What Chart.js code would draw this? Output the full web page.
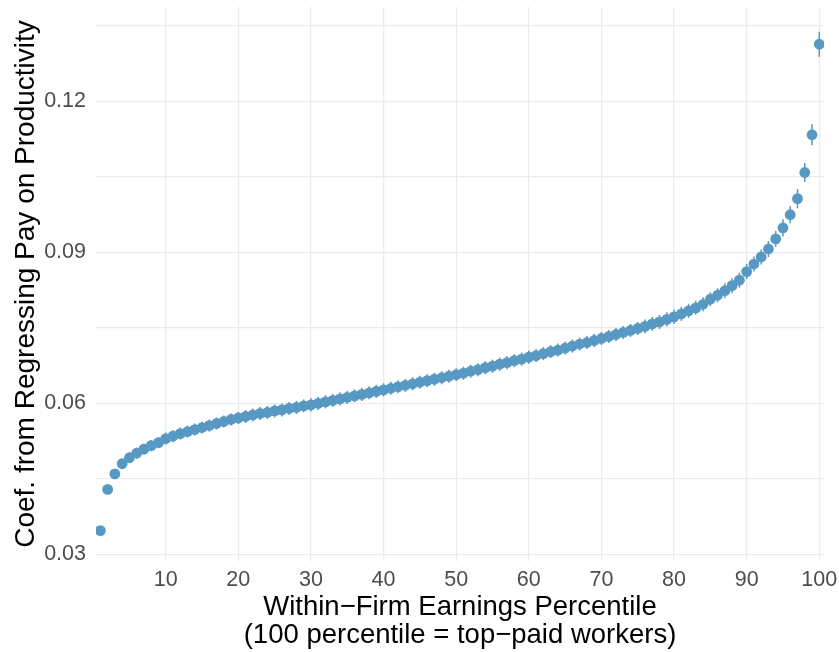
<!DOCTYPE html>
<html>
<head>
<meta charset="utf-8">
<script src="https://cdn.jsdelivr.net/npm/chart.js@4/dist/chart.umd.min.js"></script>
<style>
  html, body { margin: 0; padding: 0; background: #ffffff; }
  #wrap { width: 839px; height: 652px; }
</style>
</head>
<body>
<div id="wrap"><canvas id="c" width="839" height="652"></canvas></div>
<script>
// Within-firm earnings percentiles 1..100
const percentiles = [
  1, 2, 3, 4, 5, 6, 7, 8, 9, 10,
  11, 12, 13, 14, 15, 16, 17, 18, 19, 20,
  21, 22, 23, 24, 25, 26, 27, 28, 29, 30,
  31, 32, 33, 34, 35, 36, 37, 38, 39, 40,
  41, 42, 43, 44, 45, 46, 47, 48, 49, 50,
  51, 52, 53, 54, 55, 56, 57, 58, 59, 60,
  61, 62, 63, 64, 65, 66, 67, 68, 69, 70,
  71, 72, 73, 74, 75, 76, 77, 78, 79, 80,
  81, 82, 83, 84, 85, 86, 87, 88, 89, 90,
  91, 92, 93, 94, 95, 96, 97, 98, 99, 100
];

// Coefficient from regressing pay on productivity, by percentile
const coefficients = [
  0.0347, 0.0429, 0.0460, 0.0480, 0.0492, 0.0501, 0.0509, 0.0516, 0.0522, 0.0530,
  0.0535, 0.0540, 0.0544, 0.0548, 0.0552, 0.0556, 0.0560, 0.0564, 0.0568, 0.0571,
  0.0574, 0.0577, 0.0580, 0.0582, 0.0585, 0.0587, 0.0590, 0.0592, 0.0595, 0.0597,
  0.0600, 0.0603, 0.0606, 0.0609, 0.0612, 0.0615, 0.0618, 0.0621, 0.0624, 0.0627,
  0.0630, 0.0633, 0.0636, 0.0639, 0.0642, 0.0645, 0.0648, 0.0651, 0.0654, 0.0657,
  0.0660, 0.0664, 0.0667, 0.0671, 0.0674, 0.0678, 0.0681, 0.0685, 0.0688, 0.0692,
  0.0695, 0.0699, 0.0703, 0.0706, 0.0710, 0.0714, 0.0718, 0.0721, 0.0725, 0.0729,
  0.0733, 0.0737, 0.0741, 0.0745, 0.0749, 0.0753, 0.0758, 0.0762, 0.0767, 0.0772,
  0.0778, 0.0784, 0.0790, 0.0797, 0.0807, 0.0815, 0.0824, 0.0834, 0.0845, 0.0862,
  0.0877, 0.0891, 0.0907, 0.0927, 0.0949, 0.0975, 0.1007, 0.1059, 0.1134, 0.1314
];

// Half-width of the confidence interval around each coefficient
const ciHalfWidth = [
  0.0009, 0.0009, 0.0009, 0.0010, 0.0010, 0.0011, 0.0011, 0.0011, 0.0011, 0.0012,
  0.0012, 0.0012, 0.0012, 0.0012, 0.0012, 0.0012, 0.0012, 0.0012, 0.0012, 0.0012,
  0.0013, 0.0013, 0.0013, 0.0013, 0.0013, 0.0013, 0.0013, 0.0013, 0.0013, 0.0013,
  0.0013, 0.0013, 0.0013, 0.0013, 0.0013, 0.0013, 0.0013, 0.0013, 0.0013, 0.0013,
  0.0013, 0.0013, 0.0013, 0.0013, 0.0013, 0.0013, 0.0013, 0.0013, 0.0013, 0.0013,
  0.0013, 0.0013, 0.0013, 0.0013, 0.0013, 0.0013, 0.0013, 0.0013, 0.0013, 0.0013,
  0.0013, 0.0013, 0.0013, 0.0013, 0.0013, 0.0013, 0.0013, 0.0013, 0.0013, 0.0013,
  0.0013, 0.0013, 0.0013, 0.0013, 0.0013, 0.0014, 0.0014, 0.0014, 0.0014, 0.0014,
  0.0014, 0.0014, 0.0014, 0.0014, 0.0014, 0.0014, 0.0015, 0.0015, 0.0015, 0.0015,
  0.0015, 0.0015, 0.0016, 0.0016, 0.0017, 0.0017, 0.0019, 0.0019, 0.0021, 0.0025
];

// Axis ticks and gridlines
const xTickValues = [10, 20, 30, 40, 50, 60, 70, 80, 90, 100];
const yGridValues = [0.03, 0.045, 0.06, 0.075, 0.09, 0.105, 0.12, 0.135];
const yTickLabels = { 0.03: '0.03', 0.06: '0.06', 0.09: '0.09', 0.12: '0.12' };

const xTitle = ['Within\u2212Firm Earnings Percentile', '(100 percentile = top\u2212paid workers)'];
const yTitle = 'Coef. from Regressing Pay on Productivity';

const pointColor = '#5799C2';
const gridColor = '#EBEBEB';
const tickColor = '#4D4D4D';
const fontFamily = '"Liberation Sans", Arial, Helvetica, sans-serif';

// Vertical interval bars drawn behind the points
const intervalBars = {
  id: 'intervalBars',
  beforeDatasetsDraw(chart) {
    const ctx = chart.ctx;
    const xs = chart.scales.x, ys = chart.scales.y;
    ctx.save();
    ctx.beginPath();
    ctx.rect(chart.chartArea.left, chart.chartArea.top,
             chart.chartArea.right - chart.chartArea.left,
             chart.chartArea.bottom - chart.chartArea.top);
    ctx.clip();
    ctx.strokeStyle = pointColor;
    ctx.lineWidth = 1.5;
    percentiles.forEach((p, i) => {
      const px = xs.getPixelForValue(p);
      const lo = ys.getPixelForValue(coefficients[i] - ciHalfWidth[i]);
      const hi = ys.getPixelForValue(coefficients[i] + ciHalfWidth[i]);
      ctx.beginPath();
      ctx.moveTo(px, lo);
      ctx.lineTo(px, hi);
      ctx.stroke();
    });
    ctx.restore();
  }
};

new Chart(document.getElementById('c'), {
  type: 'scatter',
  data: {
    datasets: [{
      data: percentiles.map((p, i) => ({ x: p, y: coefficients[i] })),
      backgroundColor: pointColor,
      borderWidth: 0,
      pointRadius: 5.4,
      pointHoverRadius: 5.4
    }]
  },
  options: {
    responsive: false,
    animation: false,
    events: [],
    layout: { padding: { top: 7, right: 15, left: 0, bottom: 0 } },
    plugins: { legend: { display: false }, tooltip: { enabled: false } },
    scales: {
      x: {
        type: 'linear',
        min: 0.4,
        max: 100.65,
        afterBuildTicks(axis) { axis.ticks = xTickValues.map(v => ({ value: v })); },
        afterFit(axis) { axis.height = 91; axis.paddingLeft = 0; axis.paddingRight = 0; },
        grid: { color: gridColor, lineWidth: 1.3, drawTicks: false },
        border: { display: false },
        ticks: {
          color: tickColor,
          padding: 6,
          maxRotation: 0,
          autoSkip: false,
          font: { family: fontFamily, size: 21.5 },
          callback: v => String(v)
        },
        title: {
          display: true,
          text: xTitle,
          color: '#000000',
          padding: { top: 0, bottom: 3 },
          font: { family: fontFamily, size: 27.5, lineHeight: 1.0 }
        }
      },
      y: {
        type: 'linear',
        min: 0.02867,
        max: 0.1388,
        afterBuildTicks(axis) { axis.ticks = yGridValues.map(v => ({ value: v })); },
        afterFit(axis) { axis.width = 96; axis.paddingTop = 0; axis.paddingBottom = 0; },
        grid: { color: gridColor, lineWidth: 1.3, drawTicks: false },
        border: { display: false },
        ticks: {
          color: tickColor,
          padding: 10,
          autoSkip: false,
          font: { family: fontFamily, size: 21.5 },
          callback: v => yTickLabels[Math.round(v * 1000) / 1000] || ''
        },
        title: {
          display: true,
          text: yTitle,
          color: '#000000',
          padding: { top: 12, bottom: 0 },
          font: { family: fontFamily, size: 28, lineHeight: 1.0 }
        }
      }
    }
  },
  plugins: [intervalBars]
});
</script>
</body>
</html>
